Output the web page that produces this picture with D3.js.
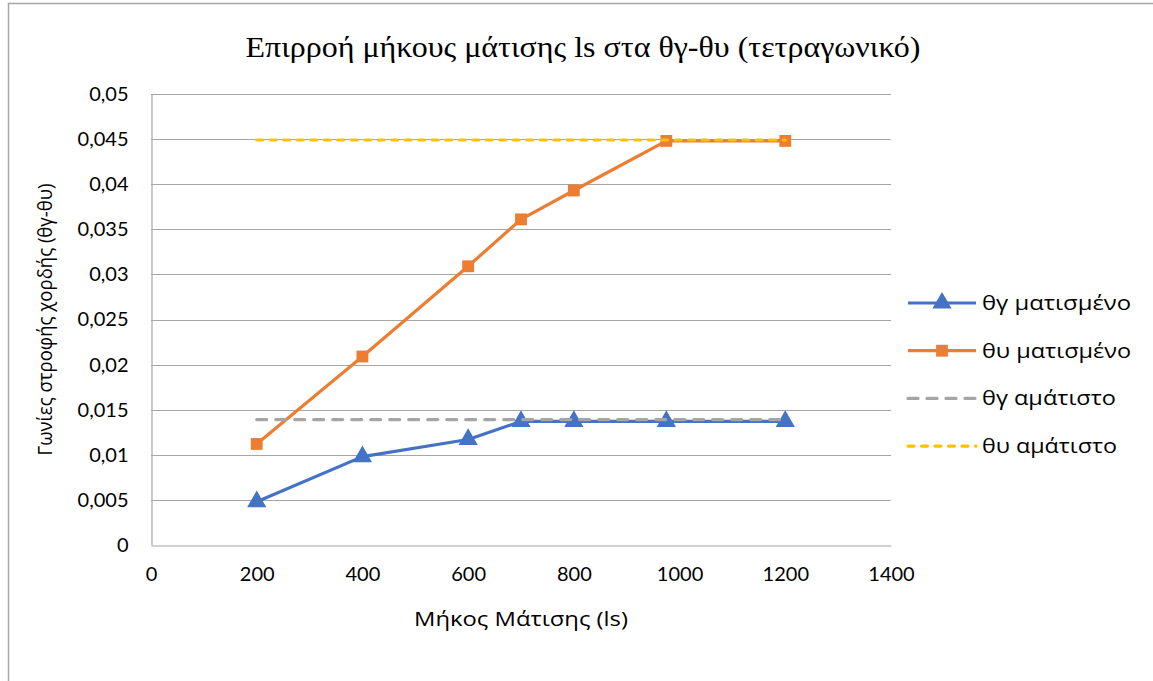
<!DOCTYPE html>
<html>
<head>
<meta charset="utf-8">
<script src="https://cdn.jsdelivr.net/npm/d3@7"></script>
<style>
  html, body { margin: 0; padding: 0; background: #fff; }
  svg { display: block; }
</style>
</head>
<body>
<svg id="chart" width="1153" height="681"></svg>
<script>
// Splice length ls (x) vs chord rotation angles θγ / θυ (y)
const lengths = [200, 400, 600, 700, 800, 975, 1200];
const thetaGSpliced = [0.0048, 0.0098, 0.0117, 0.0137, 0.0137, 0.0137, 0.0137];
const thetaUSpliced = [0.0112, 0.0209, 0.0309, 0.0361, 0.0393, 0.0448, 0.0448];
const unsplicedX = [200, 1200];
const thetaGUnspliced = [0.0139, 0.0139];
const thetaUUnspliced = [0.0449, 0.0449];

const xTicks = [0, 200, 400, 600, 800, 1000, 1200, 1400];
const yTicks = [0, 0.005, 0.01, 0.015, 0.02, 0.025, 0.03, 0.035, 0.04, 0.045, 0.05];
const yTickLabels = ["0", "0,005", "0,01", "0,015", "0,02", "0,025", "0,03", "0,035", "0,04", "0,045", "0,05"];

const seriesNames = ["θγ ματισμένο", "θυ ματισμένο", "θγ αμάτιστο", "θυ αμάτιστο"];
const titleText = "Επιρροή μήκους μάτισης ls στα θγ-θυ (τετραγωνικό)";
const xTitle = "Μήκος Μάτισης (ls)";
const yTitle = "Γωνίες στροφής χορδής (θγ-θυ)";

const svg = d3.select("#chart");
const W = 1153, H = 681;
const plot = { left: 151, right: 891, top: 94, bottom: 545 };

const x = d3.scaleLinear().domain([0, 1400]).range([plot.left, plot.right]);
const y = d3.scaleLinear().domain([0, 0.05]).range([plot.bottom, plot.top]);

const tickFont = "Lato, 'Open Sans', sans-serif";
const labelFont = "'Open Sans', sans-serif";

// chart frame
svg.append("rect")
  .attr("x", 8.5).attr("y", 3.5)
  .attr("width", W + 10).attr("height", H + 10)
  .attr("fill", "#fff").attr("stroke", "#a6a6a6").attr("stroke-width", 1.5);

// title
svg.append("text")
  .attr("x", 583).attr("y", 57)
  .attr("text-anchor", "middle")
  .attr("font-family", "'Liberation Serif', 'Times New Roman', serif")
  .attr("font-size", 29)
  .attr("textLength", 675)
  .attr("lengthAdjust", "spacingAndGlyphs")
  .attr("fill", "#000")
  .text(titleText);

// horizontal gridlines
svg.append("g")
  .selectAll("line")
  .data(yTicks.slice(1))
  .join("line")
  .attr("x1", plot.left).attr("x2", plot.right)
  .attr("y1", d => Math.round(y(d)) + 0.5).attr("y2", d => Math.round(y(d)) + 0.5)
  .attr("stroke", "#a6a6a6").attr("stroke-width", 1.2);

// y axis
const yAxis = d3.axisLeft(y)
  .tickValues(yTicks)
  .tickSize(0)
  .tickPadding(23)
  .tickFormat((d, i) => yTickLabels[i]);
const gy = svg.append("g")
  .attr("transform", `translate(${plot.left + 0.5},0)`)
  .call(yAxis);
gy.select(".domain").attr("stroke", "#a6a6a6").attr("stroke-width", 1.2);
gy.selectAll("text")
  .attr("font-family", tickFont).attr("font-size", 20).attr("fill", "#000");

// x axis
const xAxis = d3.axisBottom(x)
  .tickValues(xTicks)
  .tickSize(0)
  .tickPadding(21)
  .tickFormat(d3.format("d"));
const gx = svg.append("g")
  .attr("transform", `translate(0,${plot.bottom + 0.5})`)
  .call(xAxis);
gx.select(".domain").attr("stroke", "#a6a6a6").attr("stroke-width", 1.2);
gx.selectAll("text")
  .attr("font-family", tickFont).attr("font-size", 20).attr("fill", "#000");

// axis titles
svg.append("text")
  .attr("x", 521).attr("y", 626)
  .attr("text-anchor", "middle")
  .attr("font-family", labelFont).attr("font-size", 20)
  .attr("textLength", 214).attr("lengthAdjust", "spacingAndGlyphs")
  .text(xTitle);
svg.append("text")
  .attr("transform", `translate(52,${(plot.top + plot.bottom) / 2}) rotate(-90)`)
  .attr("text-anchor", "middle")
  .attr("font-family", labelFont).attr("font-size", 20)
  .attr("textLength", 272).attr("lengthAdjust", "spacingAndGlyphs")
  .text(yTitle);

const line = d3.line().x(d => x(d[0])).y(d => y(d[1]));
const blue = "#4472c4", orange = "#ed7d31", gray = "#a5a5a5", gold = "#ffc000";
const tri = d3.symbol().type(d3.symbolTriangle).size(160);
const sq = d3.symbol().type(d3.symbolSquare).size(140);

// θγ spliced
svg.append("path")
  .datum(d3.zip(lengths, thetaGSpliced))
  .attr("d", line).attr("fill", "none")
  .attr("stroke", blue).attr("stroke-width", 3.2).attr("stroke-linejoin", "round");
svg.append("g").selectAll("path")
  .data(d3.zip(lengths, thetaGSpliced))
  .join("path")
  .attr("d", tri)
  .attr("transform", d => `translate(${x(d[0])},${y(d[1])})`)
  .attr("fill", blue);

// θυ spliced
svg.append("path")
  .datum(d3.zip(lengths, thetaUSpliced))
  .attr("d", line).attr("fill", "none")
  .attr("stroke", orange).attr("stroke-width", 3.2).attr("stroke-linejoin", "round");
svg.append("g").selectAll("path")
  .data(d3.zip(lengths, thetaUSpliced))
  .join("path")
  .attr("d", sq)
  .attr("transform", d => `translate(${x(d[0])},${y(d[1])})`)
  .attr("fill", orange);

// θγ unspliced (reference level)
svg.append("path")
  .datum(d3.zip(unsplicedX, thetaGUnspliced))
  .attr("d", line).attr("fill", "none")
  .attr("stroke", gray).attr("stroke-width", 3.2)
  .attr("stroke-dasharray", "10,9").attr("stroke-linecap", "round");

// θυ unspliced (reference level)
svg.append("path")
  .datum(d3.zip(unsplicedX, thetaUUnspliced))
  .attr("d", line).attr("fill", "none")
  .attr("stroke", gold).attr("stroke-width", 3.2)
  .attr("stroke-dasharray", "6,7.5").attr("stroke-linecap", "round");

// legend
const legendRows = [
  { name: seriesNames[0], color: blue, dash: null, marker: tri, len: 149 },
  { name: seriesNames[1], color: orange, dash: null, marker: sq, len: 149 },
  { name: seriesNames[2], color: gray, dash: "10,9", marker: null, len: 134 },
  { name: seriesNames[3], color: gold, dash: "6,7.5", marker: null, len: 135 }
];
const lg = svg.append("g").attr("transform", "translate(908,303)");
const row = lg.selectAll("g").data(legendRows).join("g")
  .attr("transform", (d, i) => `translate(0,${i * 47.7})`);
row.append("line")
  .attr("x1", 0).attr("x2", 68).attr("y1", 0).attr("y2", 0)
  .attr("stroke", d => d.color).attr("stroke-width", 3.2)
  .attr("stroke-dasharray", d => d.dash)
  .attr("stroke-linecap", d => d.dash ? "round" : "butt");
row.filter(d => d.marker).append("path")
  .attr("d", d => d.marker())
  .attr("transform", "translate(34,0)")
  .attr("fill", d => d.color);
row.append("text")
  .attr("x", 74).attr("y", 0).attr("dy", "0.35em")
  .attr("font-family", labelFont).attr("font-size", 20)
  .attr("textLength", d => d.len).attr("lengthAdjust", "spacingAndGlyphs")
  .text(d => d.name);
</script>
</body>
</html>
